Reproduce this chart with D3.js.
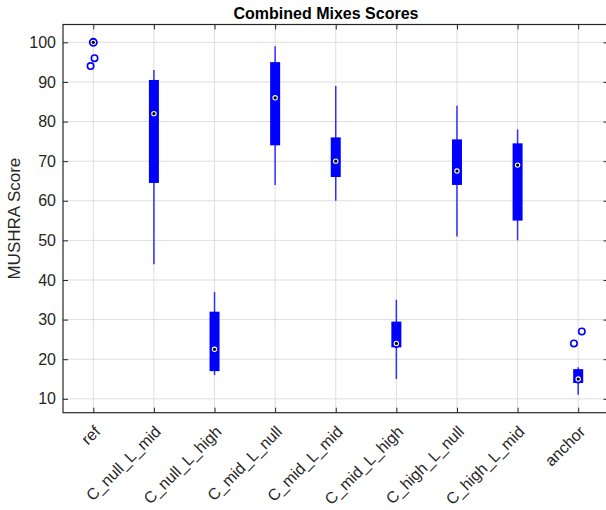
<!DOCTYPE html>
<meta charset="utf-8">
<style>
    body { margin: 0; background: #fff; }
    text { font-family: "Liberation Sans", Arial, sans-serif; fill: #262626; }
    .grid line { stroke: #dedede; stroke-width: 1; }
    .frame { fill: none; stroke: #262626; stroke-width: 1.2; }
    .whisker { stroke: #0000ff; stroke-width: 1.5; stroke-opacity: 0.8; }
    .box { fill: #0000ff; }
    .outlier { fill: none; stroke: #0000ff; stroke-width: 1.6; }
</style>
<svg width="606" height="510"></svg>
<script src="https://d3js.org/d3.v7.min.js"></script>
<script>

    // groups along the x axis
    var categories = ["ref", "C_null_L_mid", "C_null_L_high", "C_mid_L_null", "C_mid_L_mid",
        "C_mid_L_high", "C_high_L_null", "C_high_L_mid", "anchor"];

    // box statistics per group
    var whiskerLow  = [100, 44, 16, 64, 60, 15, 51, 50, 11];
    var q1          = [100, 64.5, 17, 74, 66, 23, 64, 55, 14];
    var medians     = [100, 82, 22.5, 86, 70, 24, 67.5, 69, 15];
    var q3          = [100, 90.5, 32, 95, 76, 29.5, 75.5, 74.5, 17.5];
    var whiskerHigh = [100, 93, 37, 99, 89, 35, 84, 78, 18];

    // outliers: group index, value, jitter (in group units)
    var outlierGroup  = [0, 0, 8, 8];
    var outlierValue  = [96, 94, 24, 27];
    var outlierJitter = [0.02, -0.045, -0.07, 0.06];

    var yTicks = [10, 20, 30, 40, 50, 60, 70, 80, 90, 100];

    var svg = d3.select("svg"),
        margin = {top: 24.5, left: 63},
        plotRight = 608.5,
        plotBottom = 412.7;

    var x = d3.scaleLinear().domain([0.5, categories.length + 0.5]).range([margin.left, plotRight]),
        y = d3.scaleLinear().domain([6.5, 104.5]).range([plotBottom, margin.top]);

    var xs = categories.map(function(d, i) { return i + 1; });

    // grid
    var grid = svg.append("g").attr("class", "grid");
    grid.selectAll(".gx").data(xs).enter().append("line")
        .attr("x1", function(d) { return x(d); }).attr("x2", function(d) { return x(d); })
        .attr("y1", margin.top).attr("y2", plotBottom);
    grid.selectAll(".gy").data(yTicks).enter().append("line")
        .attr("x1", margin.left).attr("x2", plotRight)
        .attr("y1", function(d) { return y(d); }).attr("y2", function(d) { return y(d); });

    // axes (ticks pointing inward on all four sides)
    function noDomain(g) { g.select(".domain").remove(); g.selectAll("line").attr("stroke", "#262626"); }
    svg.append("g")
        .attr("transform", "translate(" + margin.left + ",0)")
        .call(d3.axisRight(y).tickValues(yTicks).tickSize(5).tickFormat(""))
        .call(noDomain);
    svg.append("g")
        .attr("transform", "translate(" + plotRight + ",0)")
        .call(d3.axisLeft(y).tickValues(yTicks).tickSize(5).tickFormat(""))
        .call(noDomain);
    svg.append("g")
        .attr("transform", "translate(0," + plotBottom + ")")
        .call(d3.axisTop(x).tickValues(xs).tickSize(5).tickFormat(""))
        .call(noDomain);
    svg.append("g")
        .attr("transform", "translate(0," + margin.top + ")")
        .call(d3.axisBottom(x).tickValues(xs).tickSize(5).tickFormat(""))
        .call(noDomain);

    svg.append("rect").attr("class", "frame")
        .attr("x", margin.left).attr("y", margin.top)
        .attr("width", plotRight - margin.left).attr("height", plotBottom - margin.top);

    // tick labels
    svg.append("g").selectAll("text").data(yTicks).enter().append("text")
        .attr("x", margin.left - 7)
        .attr("y", function(d) { return y(d); })
        .attr("dy", "0.35em")
        .attr("text-anchor", "end")
        .style("font-size", "16px")
        .text(function(d) { return d; });

    svg.append("g").selectAll("text").data(categories).enter().append("text")
        .attr("transform", function(d, i) { return "translate(" + (x(i + 1) + 4) + "," + (plotBottom + 16) + ") rotate(-45)"; })
        .attr("dy", "0.35em")
        .attr("text-anchor", "end")
        .style("font-size", "16px")
        .text(function(d) { return d; });

    // boxes
    var g = svg.append("g");
    xs.forEach(function(c, i) {
        g.append("line").attr("class", "whisker")
            .attr("x1", x(c)).attr("x2", x(c))
            .attr("y1", y(whiskerLow[i])).attr("y2", y(whiskerHigh[i]));
        g.append("rect").attr("class", "box")
            .attr("x", x(c) - 5).attr("width", 10)
            .attr("y", y(q3[i])).attr("height", y(q1[i]) - y(q3[i]));
    });

    g.selectAll(".outlier").data(outlierValue).enter().append("circle")
        .attr("class", "outlier")
        .attr("cx", function(d, i) { return x(outlierGroup[i] + 1 + outlierJitter[i]); })
        .attr("cy", function(d) { return y(d); })
        .attr("r", 3.2);

    g.selectAll(".med").data(medians).enter().append("circle")
        .attr("cx", function(d, i) { return x(i + 1); })
        .attr("cy", function(d) { return y(d); })
        .attr("r", 3.6)
        .attr("fill", "#fff")
        .attr("stroke", "#0000ff")
        .attr("stroke-width", 1.8);
    g.selectAll(".dot").data(medians).enter().append("circle")
        .attr("cx", function(d, i) { return x(i + 1); })
        .attr("cy", function(d) { return y(d); })
        .attr("r", 1.6)
        .attr("fill", "#000");

    // titles
    svg.append("text")
        .attr("x", 326).attr("y", 19)
        .attr("text-anchor", "middle")
        .style("font-size", "16px").style("font-weight", "bold")
        .style("fill", "#000")
        .text("Combined Mixes Scores");

    svg.append("text")
        .attr("transform", "translate(20," + ((margin.top + plotBottom) / 2) + ") rotate(-90)")
        .attr("text-anchor", "middle")
        .style("font-size", "17px")
        .text("MUSHRA Score");

</script>
